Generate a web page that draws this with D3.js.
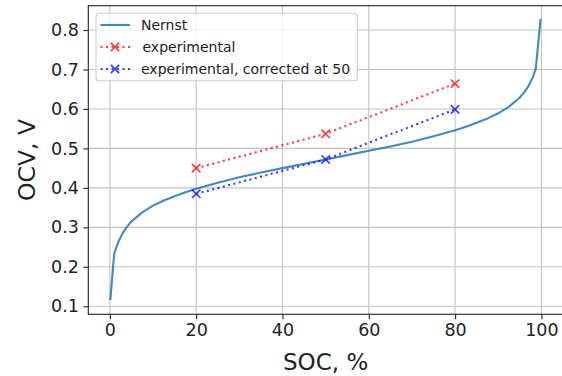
<!DOCTYPE html>
<html>
<head>
<meta charset="utf-8">
<script src="https://cdn.jsdelivr.net/npm/d3@7/dist/d3.min.js"></script>
<style>
  html, body { margin: 0; padding: 0; background: #fff; }
  svg { display: block; font-family: "DejaVu Sans", sans-serif; }
</style>
</head>
<body>
<svg id="chart" width="562" height="376"></svg>
<script>
// Nernst open-circuit voltage curve, SOC in %
const nernstSoc = [0.1, 1, 2, 3, 4, 5, 7.5, 10, 12.5, 15, 17.5, 20, 25, 30, 35, 40, 45, 50,
                   55, 60, 65, 70, 75, 80, 82.5, 85, 87.5, 90, 92.5, 95, 96, 97, 98, 98.7, 99.8];
const nernstOcv = [0.116, 0.234, 0.264, 0.286, 0.302, 0.315, 0.338, 0.355, 0.368, 0.379, 0.389, 0.398,
                   0.413, 0.427, 0.439, 0.450, 0.461, 0.472, 0.483, 0.494, 0.505, 0.517,
                   0.531, 0.546, 0.555, 0.565, 0.576, 0.589, 0.606, 0.629, 0.642, 0.658, 0.680, 0.702, 0.828];

// Measured points and the same points shifted to meet the curve at 50 %
const expSoc = [20, 50, 80];
const expOcv = [0.450, 0.537, 0.664];
const corrOcv = [0.385, 0.472, 0.599];

const xTicks = [0, 20, 40, 60, 80, 100];
const yTicks = [0.1, 0.2, 0.3, 0.4, 0.5, 0.6, 0.7, 0.8];

const legendLabels = ["Nernst", "experimental", "experimental, corrected at 50"];

const plot = { left: 88.3, right: 563, top: 5.7, bottom: 314.3 };

const svg = d3.select("#chart");
svg.append("rect").attr("width", 562).attr("height", 376).attr("fill", "#fff");

const x = d3.scaleLinear().domain([-5, 105]).range([plot.left, plot.right]);
const y = d3.scaleLinear().domain([0.0797, 0.8616]).range([plot.bottom, plot.top]);

// grid
const grid = svg.append("g").attr("stroke", "#b0b0b0").attr("stroke-width", 1.1).attr("opacity", 0.75);
grid.selectAll("line.gx").data(xTicks).join("line")
  .attr("x1", d => x(d)).attr("x2", d => x(d))
  .attr("y1", plot.top).attr("y2", plot.bottom);
grid.selectAll("line.gy").data(yTicks).join("line")
  .attr("x1", plot.left).attr("x2", plot.right)
  .attr("y1", d => y(d)).attr("y2", d => y(d));

// axes
const xAxis = d3.axisBottom(x).tickValues(xTicks).tickSize(4.9).tickPadding(4).tickFormat(d3.format("d"));
const yAxis = d3.axisLeft(y).tickValues(yTicks).tickSize(4.9).tickPadding(4.5).tickFormat(d3.format(".1f"));

const gx = svg.append("g").attr("transform", `translate(0,${plot.bottom})`).call(xAxis);
const gy = svg.append("g").attr("transform", `translate(${plot.left},0)`).call(yAxis);
[gx, gy].forEach(g => {
  g.select(".domain").remove();
  g.selectAll(".tick line").attr("stroke", "#222").attr("stroke-width", 1.1);
  g.selectAll(".tick text").attr("fill", "#222").style("font-size", "17.5px")
    .style("font-family", "'DejaVu Sans', sans-serif");
});

// spines
svg.append("rect")
  .attr("x", plot.left).attr("y", plot.top)
  .attr("width", plot.right - plot.left).attr("height", plot.bottom - plot.top)
  .attr("fill", "none").attr("stroke", "#222").attr("stroke-width", 1.1);

// axis titles
svg.append("text")
  .attr("x", (plot.left + plot.right) / 2).attr("y", 370)
  .attr("text-anchor", "middle").attr("fill", "#222")
  .style("font-size", "23px").text("SOC, %");
svg.append("text")
  .attr("transform", `translate(35,${(plot.top + plot.bottom) / 2}) rotate(-90)`)
  .attr("text-anchor", "middle").attr("fill", "#222")
  .style("font-size", "23.5px").text("OCV, V");

// Nernst curve
const nernst = nernstSoc.map((s, i) => [s, nernstOcv[i]]);
const line = d3.line().x(d => x(d[0])).y(d => y(d[1]));
svg.append("path").datum(nernst)
  .attr("d", line).attr("fill", "none")
  .attr("stroke", "#1f77b4").attr("stroke-width", 2.1).attr("opacity", 0.85)
  .attr("stroke-linejoin", "round");

// dotted series with x markers
function drawSeries(socs, ocvs, color) {
  const pts = socs.map((s, i) => [s, ocvs[i]]);
  const g = svg.append("g").attr("opacity", 0.75);
  g.append("path").datum(pts).attr("d", line)
    .attr("fill", "none").attr("stroke", color).attr("stroke-width", 2.1)
    .attr("stroke-dasharray", "2.1,3.4");
  const m = 4.2;
  g.selectAll("path.mk").data(pts).join("path")
    .attr("d", d => `M${x(d[0]) - m},${y(d[1]) - m}L${x(d[0]) + m},${y(d[1]) + m}M${x(d[0]) - m},${y(d[1]) + m}L${x(d[0]) + m},${y(d[1]) - m}`)
    .attr("stroke", color).attr("stroke-width", 1.7).attr("fill", "none");
}
drawSeries(expSoc, expOcv, "#ff0000");
drawSeries(expSoc, corrOcv, "#0000ff");

// legend
const lg = svg.append("g");
lg.append("rect").attr("x", 96).attr("y", 13.3).attr("width", 261.3).attr("height", 67.4)
  .attr("rx", 3).attr("fill", "#fff").attr("fill-opacity", 0.8)
  .attr("stroke", "#cccccc").attr("stroke-width", 1.1);
const rowY = [25, 47, 69];
const textX = [141, 142.5, 141];
const styles = [
  { color: "#1f77b4", dash: null, marker: false, op: 0.85 },
  { color: "#ff0000", dash: "2.1,3.4", marker: true, op: 0.75 },
  { color: "#0000ff", dash: "2.1,3.4", marker: true, op: 0.75 }
];
legendLabels.forEach((label, i) => {
  const st = styles[i];
  const g = lg.append("g").attr("opacity", st.op);
  g.append("line").attr("x1", 100.5).attr("x2", 130).attr("y1", rowY[i]).attr("y2", rowY[i])
    .attr("stroke", st.color).attr("stroke-width", 2.1)
    .attr("stroke-dasharray", st.dash);
  if (st.marker) {
    const cx = 115, cy = rowY[i], m = 4.2;
    g.append("path")
      .attr("d", `M${cx - m},${cy - m}L${cx + m},${cy + m}M${cx - m},${cy + m}L${cx + m},${cy - m}`)
      .attr("stroke", st.color).attr("stroke-width", 1.7);
  }
  lg.append("text").attr("x", textX[i]).attr("y", rowY[i] + 5)
    .attr("fill", "#222").style("font-size", "14px").text(label);
});
</script>
</body>
</html>
